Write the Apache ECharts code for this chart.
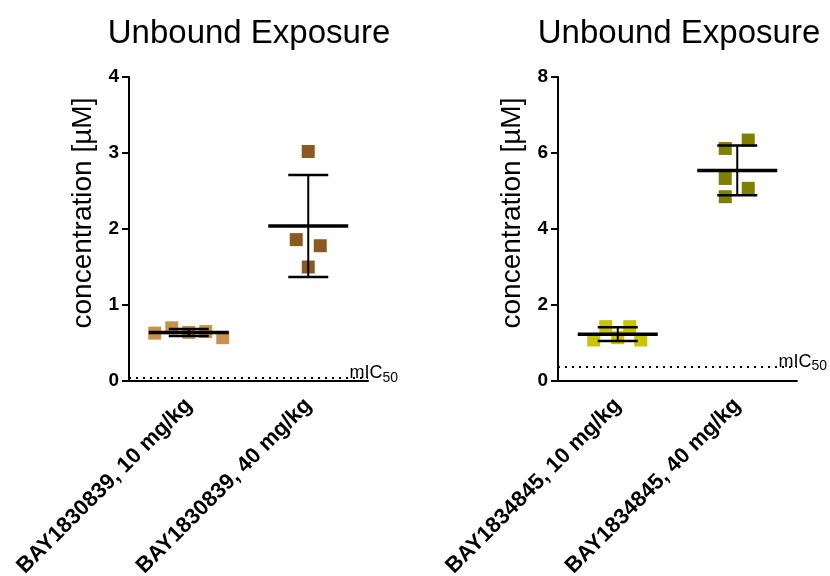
<!DOCTYPE html>
<html>
<head>
<meta charset="utf-8">
<script src="https://cdn.jsdelivr.net/npm/echarts@6/dist/echarts.min.js"></script>
<style>
  html, body { margin: 0; padding: 0; background: #fff; }
  #chart { width: 830px; height: 576px; }
</style>
</head>
<body>
<div id="chart"></div>
<script>
// values
const leftCategories = ['BAY1830839, 10 mg/kg', 'BAY1830839, 40 mg/kg'];
const rightCategories = ['BAY1834845, 10 mg/kg', 'BAY1834845, 40 mg/kg'];
const left10 = [0.63, 0.70, 0.64, 0.65, 0.57];
const left40 = [3.02, 1.86, 1.78, 1.50];
const right10 = [1.08, 1.43, 1.14, 1.43, 1.08];
const right40 = [6.12, 6.34, 5.33, 5.07, 4.85];
const leftMic50 = 0.04;
const rightMic50 = 0.38;

// horizontal scatter of the points (pixels), style only
const spreadLeft10 = [-34, -17, 0, 17, 34];
const spreadLeft40 = [0, -12, 12, 0];
const spreadRight10 = [-24, -12, 0, 12, 23];
const spreadRight40 = [-12, 11, -12, 11, -12];

const colors = ['#c9924c', '#8c5a1e', '#c8c400', '#7f7f00'];
const FONT = 'Liberation Sans, Arial, sans-serif';

function mean(a) { return a.reduce((s, v) => s + v, 0) / a.length; }
function sd(a) {
  const m = mean(a);
  return Math.sqrt(a.reduce((s, v) => s + (v - m) * (v - m), 0) / (a.length - 1));
}

function points(cat, vals, spread, color) {
  return vals.map((v, i) => ({
    value: [cat, v],
    symbolOffset: [spread[i], 0],
    itemStyle: { color: color, opacity: 1 }
  }));
}

function renderMeanSd(params, api) {
  const c = api.coord([api.value(0), api.value(1)]);
  const top = api.coord([api.value(0), api.value(1) + api.value(2)]);
  const bot = api.coord([api.value(0), api.value(1) - api.value(2)]);
  return {
    type: 'group',
    children: [
      { type: 'line', shape: { x1: c[0], y1: top[1], x2: c[0], y2: bot[1] }, style: { stroke: '#000', lineWidth: 2 } },
      { type: 'line', shape: { x1: c[0] - 20, y1: top[1], x2: c[0] + 20, y2: top[1] }, style: { stroke: '#000', lineWidth: 2.5 } },
      { type: 'line', shape: { x1: c[0] - 20, y1: bot[1], x2: c[0] + 20, y2: bot[1] }, style: { stroke: '#000', lineWidth: 2.5 } },
      { type: 'line', shape: { x1: c[0] - 40, y1: c[1], x2: c[0] + 40, y2: c[1] }, style: { stroke: '#000', lineWidth: 3.5 } }
    ]
  };
}

function micLine(value) {
  return {
    silent: true,
    symbol: 'none',
    lineStyle: { color: '#000', type: [2, 5], width: 2 },
    label: {
      position: 'insideEndTop',
      distance: [-30, -7],
      formatter: '{a|mIC}{b|50}',
      rich: {
        a: { fontSize: 18, color: '#000', fontFamily: FONT },
        b: { fontSize: 14, color: '#000', fontFamily: FONT, padding: [10, 0, 0, 0] }
      }
    },
    data: [{ yAxis: value }]
  };
}

function yAxis(idx, max, interval) {
  return {
    type: 'value', gridIndex: idx, min: 0, max: max, interval: interval,
    name: 'concentration [µM]', nameLocation: 'middle', nameGap: 32,
    nameTextStyle: { fontSize: 28, color: '#000', fontFamily: FONT, padding: [0, 0, 0, 32] },
    axisLine: { show: true, lineStyle: { color: '#000', width: 2 } },
    axisTick: { show: true, length: 7, lineStyle: { color: '#000', width: 2 } },
    axisLabel: { color: '#000', fontWeight: 'bold', fontSize: 19, fontFamily: FONT, margin: 10 },
    splitLine: { show: false }
  };
}

function xAxis(idx, cats) {
  return {
    type: 'category', gridIndex: idx, data: cats,
    axisLine: { lineStyle: { color: '#000', width: 2 } },
    axisTick: { alignWithLabel: true, length: 7, lineStyle: { color: '#000', width: 2 } },
    axisLabel: { rotate: 45, color: '#000', fontWeight: 'bold', fontSize: 22, fontFamily: FONT, margin: 21, interval: 0 }
  };
}

const chart = echarts.init(document.getElementById('chart'));
chart.setOption({
  backgroundColor: '#fff',
  animation: false,
  title: [
    { text: 'Unbound Exposure', left: 244, top: 12, textAlign: 'center', textStyle: { fontSize: 33, fontWeight: 'normal', color: '#000', fontFamily: FONT } },
    { text: 'Unbound Exposure', left: 674, top: 12, textAlign: 'center', textStyle: { fontSize: 33, fontWeight: 'normal', color: '#000', fontFamily: FONT } }
  ],
  grid: [
    { left: 129, width: 239, top: 77, height: 304, outerBoundsMode: 'none' },
    { left: 558, width: 239, top: 77, height: 304, outerBoundsMode: 'none' }
  ],
  xAxis: [xAxis(0, leftCategories), xAxis(1, rightCategories)],
  yAxis: [yAxis(0, 4, 1), yAxis(1, 8, 2)],
  series: [
    {
      type: 'scatter', xAxisIndex: 0, yAxisIndex: 0, symbol: 'rect', symbolSize: 13,
      data: points(0, left10, spreadLeft10, colors[0]).concat(points(1, left40, spreadLeft40, colors[1])),
      markLine: micLine(leftMic50)
    },
    {
      type: 'scatter', xAxisIndex: 1, yAxisIndex: 1, symbol: 'rect', symbolSize: 13,
      data: points(0, right10, spreadRight10, colors[2]).concat(points(1, right40, spreadRight40, colors[3])),
      markLine: micLine(rightMic50)
    },
    {
      type: 'custom', xAxisIndex: 0, yAxisIndex: 0, renderItem: renderMeanSd,
      data: [[0, mean(left10), sd(left10)], [1, mean(left40), sd(left40)]], z: 5
    },
    {
      type: 'custom', xAxisIndex: 1, yAxisIndex: 1, renderItem: renderMeanSd,
      data: [[0, mean(right10), sd(right10)], [1, mean(right40), sd(right40)]], z: 5
    }
  ]
});
</script>
</body>
</html>
